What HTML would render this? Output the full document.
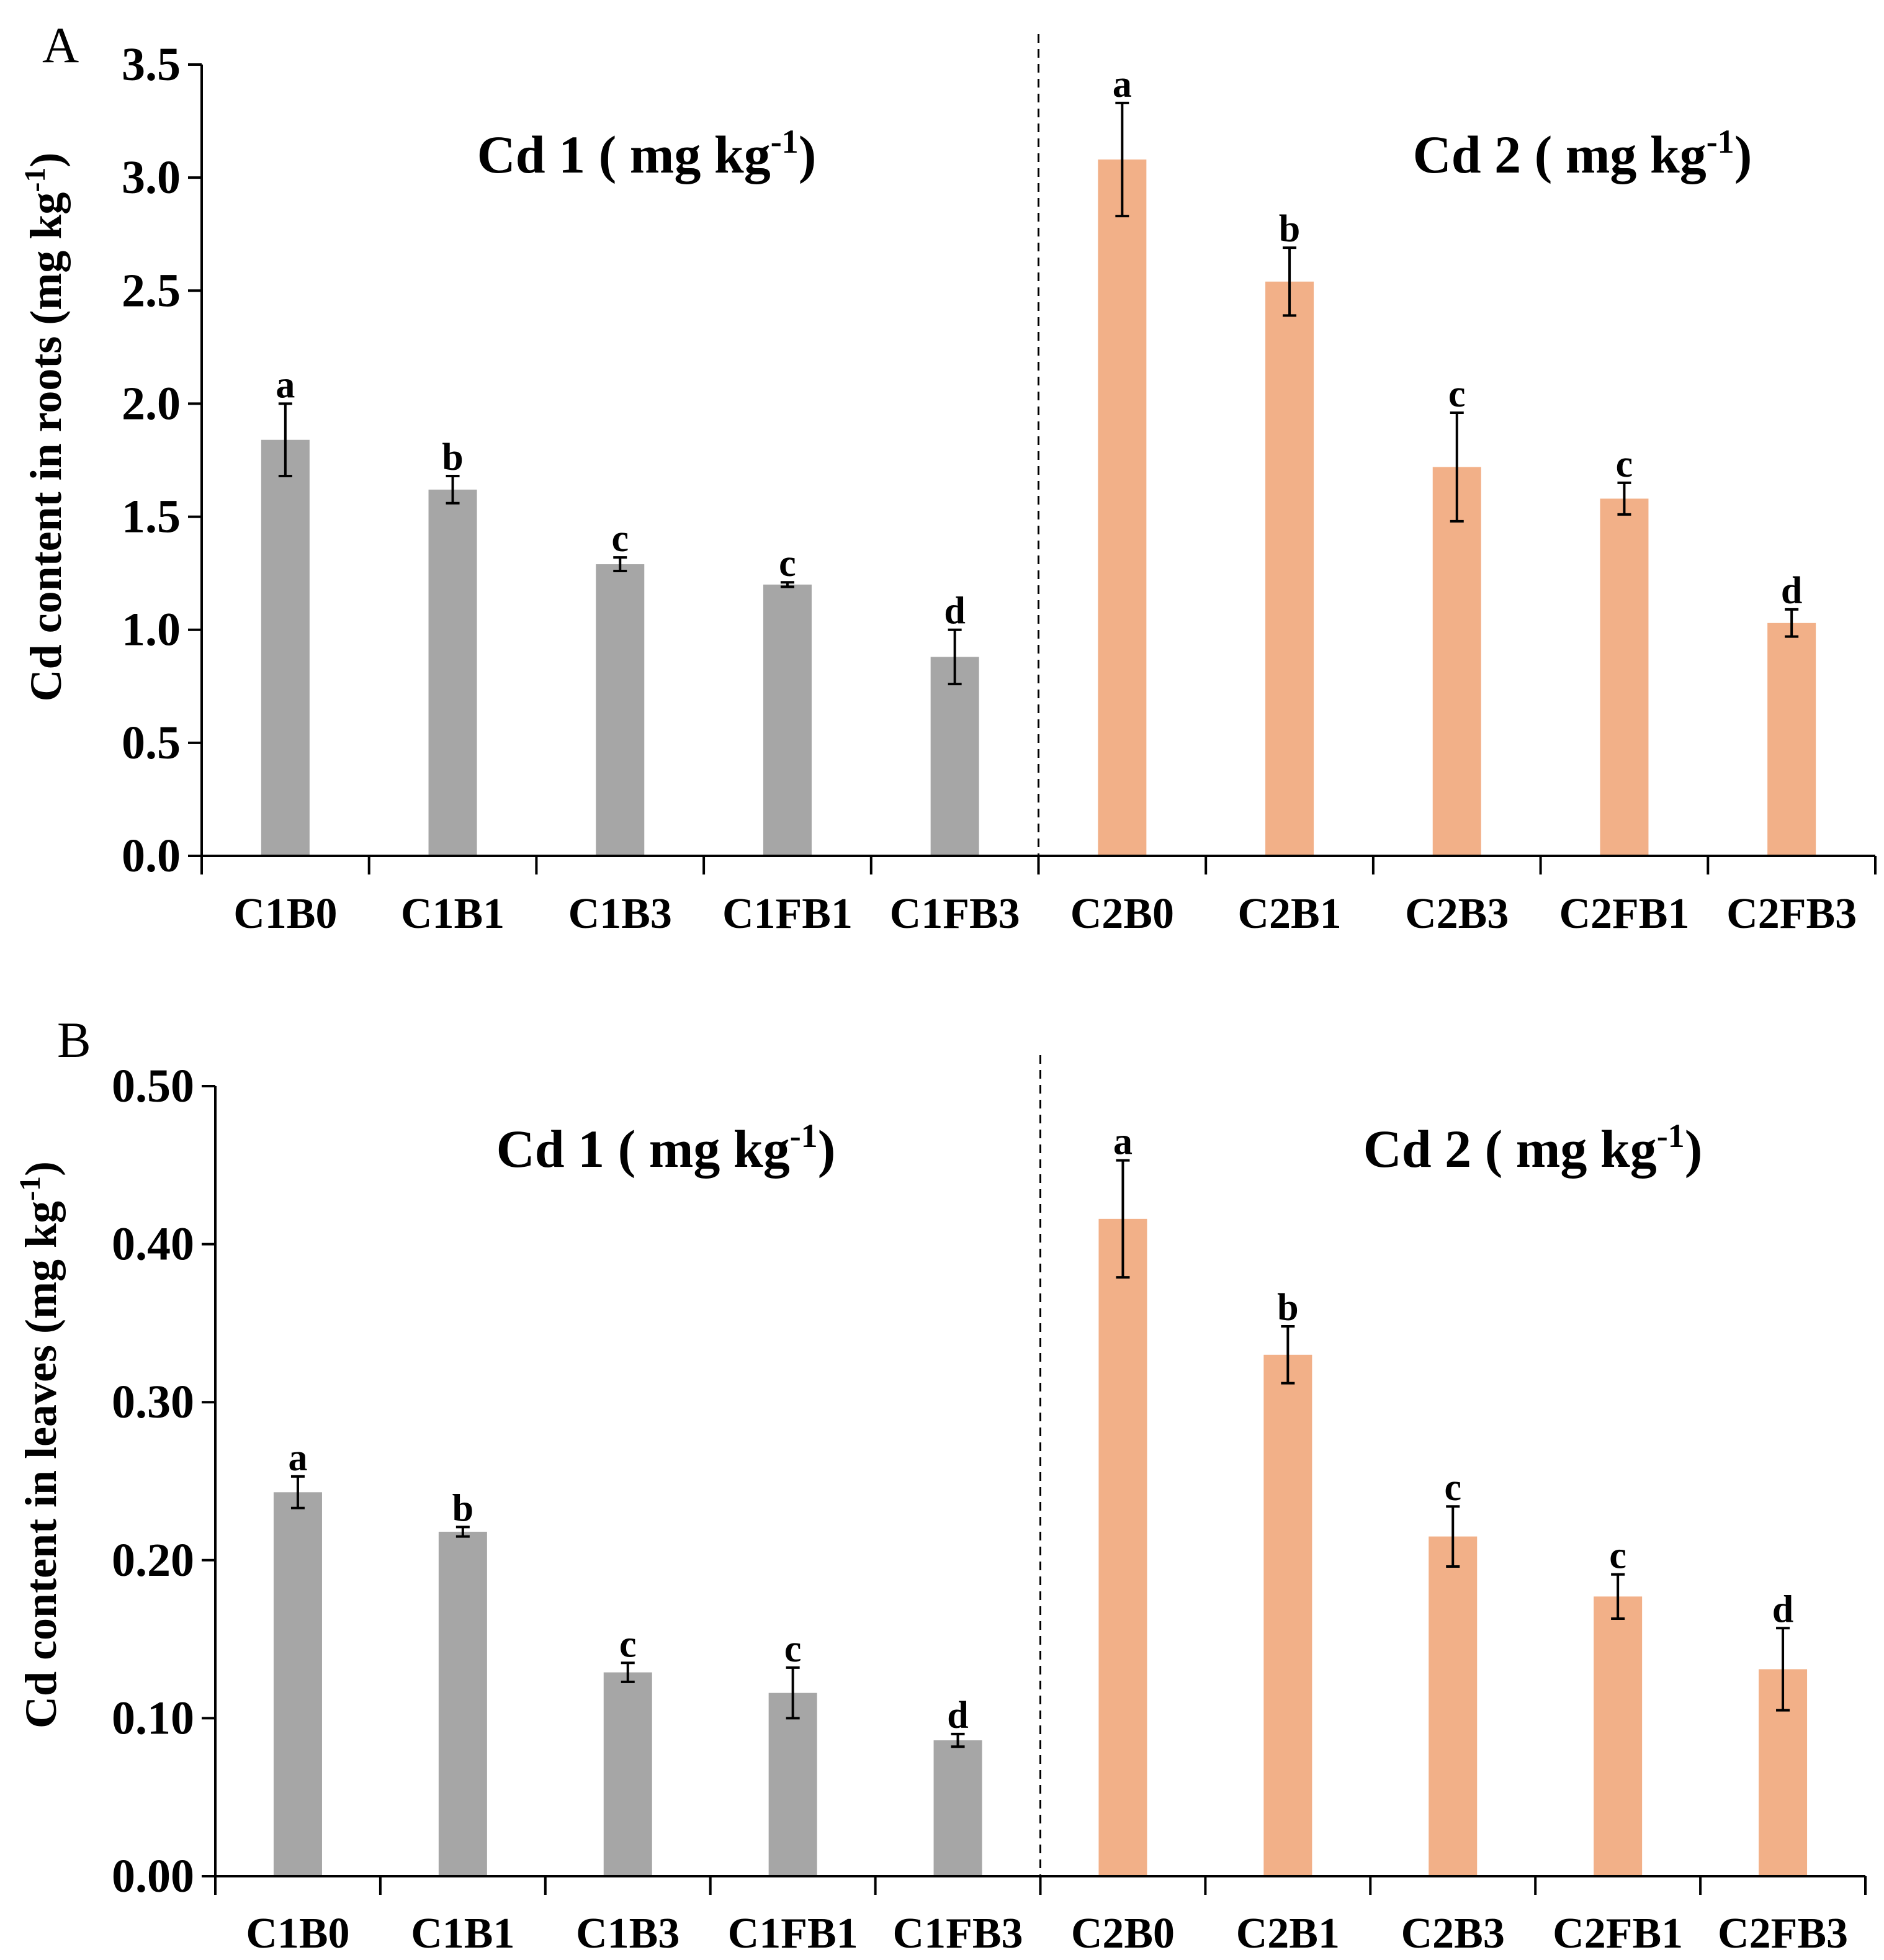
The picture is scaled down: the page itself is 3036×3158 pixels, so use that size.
<!DOCTYPE html>
<html><head><meta charset="utf-8"><style>
html,body{margin:0;padding:0;background:#fff;}
svg{display:block;}
text{font-family:"Liberation Serif",serif;fill:#000;}
</style></head><body>
<svg id="fig" width="3036" height="3158" viewBox="0 0 3036 3158" xmlns="http://www.w3.org/2000/svg"></svg>
<script>
const categories = ["C1B0","C1B1","C1B3","C1FB1","C1FB3","C2B0","C2B1","C2B3","C2FB1","C2FB3"];
const rootValues = [1.84,1.62,1.29,1.20,0.88,3.08,2.54,1.72,1.58,1.03];
const rootErrors = [0.16,0.06,0.03,0.01,0.12,0.25,0.15,0.24,0.07,0.06];
const rootLetters = ["a","b","c","c","d","a","b","c","c","d"];
const rootTicks = [0,0.5,1.0,1.5,2.0,2.5,3.0,3.5];
const rootTickLabels = ["0.0","0.5","1.0","1.5","2.0","2.5","3.0","3.5"];
const leafValues = [0.243,0.218,0.129,0.116,0.086,0.416,0.330,0.215,0.177,0.131];
const leafErrors = [0.010,0.003,0.006,0.016,0.004,0.037,0.018,0.019,0.014,0.026];
const leafLetters = ["a","b","c","c","d","a","b","c","c","d"];
const leafTicks = [0,0.1,0.2,0.3,0.4,0.5];
const leafTickLabels = ["0.00","0.10","0.20","0.30","0.40","0.50"];

const NS="http://www.w3.org/2000/svg";
const svg=document.getElementById('fig');
function mk(tag,attrs,parent){const e=document.createElementNS(NS,tag);for(const k in attrs)e.setAttribute(k,attrs[k]);(parent||svg).appendChild(e);return e;}

function panel(cfg){
  const g=mk('g',{});
  
  
  const step=(cfg.x1-cfg.x0)/categories.length;
  const xc=i=>cfg.x0+step*(i+0.5);
  const y=v=>cfg.yZero-(v-cfg.min)/(cfg.max-cfg.min)*(cfg.yZero-cfg.yTop);
  cfg.values.forEach((v,i)=>{
    const b=mk('rect',{x:xc(i)-39,y:y(v),width:78,height:cfg.yZero-y(v),fill:i<5?'#a6a6a6':'#f2b088'},g);
    
    
    const top=y(v+cfg.errors[i]),bot=y(v-cfg.errors[i]);
    const eb=mk('path',{d:`M${xc(i)},${top}V${bot}M${xc(i)-11},${top}H${xc(i)+11}M${xc(i)-11},${bot}H${xc(i)+11}`,stroke:'#000','stroke-width':4,fill:'none'},g);
    
    
    const lt=mk('text',{x:xc(i),y:top-10,'font-size':62,'font-weight':'bold','text-anchor':'middle'},g);
    lt.textContent=cfg.letters[i];
    
    
  });
  const ax=mk('path',{d:`M${cfg.x0},${cfg.yTop}V${cfg.yZero}H${cfg.x1}`,stroke:'#000','stroke-width':4,fill:'none'},g);
  
  
  cfg.ticks.forEach((t,i)=>{
    mk('line',{x1:cfg.x0-22,x2:cfg.x0,y1:y(t),y2:y(t),stroke:'#000','stroke-width':4},g);
    const tl=mk('text',{x:cfg.x0-34,y:y(t)+25,'font-size':76,'font-weight':'bold','text-anchor':'end'},g);
    tl.textContent=cfg.tickLabels[i];
    
    
  });
  for(let i=0;i<=categories.length;i++){
    mk('line',{x1:cfg.x0+step*i,x2:cfg.x0+step*i,y1:cfg.yZero,y2:cfg.yZero+30,stroke:'#000','stroke-width':4},g);
  }
  categories.forEach((c,i)=>{
    const t=mk('text',{x:xc(i),y:cfg.labelY,'font-size':70,'font-weight':'bold','text-anchor':'middle'},g);
    t.textContent=c;
    
    
  });
  const mid=cfg.x0+step*5;
  const dl=mk('line',{x1:mid,x2:mid,y1:cfg.dashTop,y2:cfg.yZero,stroke:'#000','stroke-width':3,'stroke-dasharray':'14,10'},g);
  
  
  [[cfg.t1x,'1'],[cfg.t2x,'2']].forEach(([tx,n])=>{
    const t=mk('text',{x:tx,y:cfg.titleY,'font-size':86,'font-weight':'bold','text-anchor':'middle'},g);
    t.innerHTML=`Cd ${n} ( mg kg<tspan dy="-32" font-size="54">-1</tspan><tspan dy="32">)</tspan>`;
    
    
  });
  const yt=mk('text',{x:0,y:0,'font-size':72,'font-weight':'bold','text-anchor':'middle',transform:`translate(${cfg.ytx},${cfg.yty}) rotate(-90)`},g);
  yt.innerHTML=cfg.yTitle+` (mg kg<tspan dy="-26" font-size="48">-1</tspan><tspan dy="26">)</tspan>`;
  
  
  const pl=mk('text',{x:cfg.plx,y:cfg.ply,'font-size':82},g);
  pl.textContent=cfg.panelLabel;
  
  
}

panel({name:'panel-a-roots',x0:325,x1:3022,yTop:104,yZero:1379,min:0,max:3.5,values:rootValues,errors:rootErrors,letters:rootLetters,ticks:rootTicks,tickLabels:rootTickLabels,labelY:1495,dashTop:55,t1x:1042,t2x:2550,titleY:278,ytx:98,yty:688,yTitle:'Cd content in roots',panelLabel:'A',plx:68,ply:100});
panel({name:'panel-b-leaves',x0:347,x1:3006,yTop:1750,yZero:3023,min:0,max:0.5,values:leafValues,errors:leafErrors,letters:leafLetters,ticks:leafTicks,tickLabels:leafTickLabels,labelY:3138,dashTop:1700,t1x:1073,t2x:2470,titleY:1880,ytx:90,yty:2328,yTitle:'Cd content in leaves',panelLabel:'B',plx:92,ply:1703});
</script>
</body></html>
